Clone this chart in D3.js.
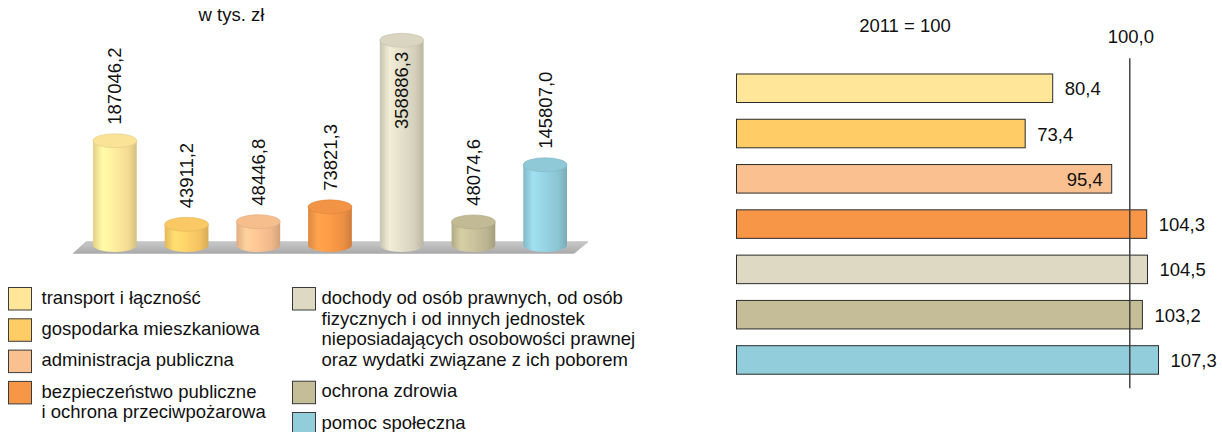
<!DOCTYPE html>
<html>
<head>
<meta charset="utf-8">
<script src="https://cdn.jsdelivr.net/npm/d3@7"></script>
<style>
  html, body { margin: 0; padding: 0; background: #fff; }
  svg { display: block; }
  text { font-family: "Liberation Sans", Arial, sans-serif; fill: #111; }
</style>
</head>
<body>
<svg id="chart" width="1222" height="432"></svg>
<script>
// ---------- DATA ----------
const categories = [
  "transport i łączność",
  "gospodarka mieszkaniowa",
  "administracja publiczna",
  "bezpieczeństwo publiczne i ochrona przeciwpożarowa",
  "dochody od osób prawnych, od osób fizycznych i od innych jednostek nieposiadających osobowości prawnej oraz wydatki związane z ich poborem",
  "ochrona zdrowia",
  "pomoc społeczna"
];
const amounts = [187046.2, 43911.2, 48446.8, 73821.3, 358886.3, 48074.6, 145807.0];   // w tys. zł
const indices = [80.4, 73.4, 95.4, 104.3, 104.5, 103.2, 107.3];                      // 2011 = 100
const colors = ["#FFE699", "#FFCC66", "#FAC090", "#F79646", "#DDD9C3", "#C4BD97", "#92CDDC"];
const legendLines = [
  ["transport i łączność"],
  ["gospodarka mieszkaniowa"],
  ["administracja publiczna"],
  ["bezpieczeństwo publiczne", "i ochrona przeciwpożarowa"],
  ["dochody od osób prawnych, od osób", "fizycznych i od innych jednostek",
   "nieposiadających osobowości prawnej", "oraz wydatki związane z ich poborem"],
  ["ochrona zdrowia"],
  ["pomoc społeczna"]
];
const legendColumn = [0, 0, 0, 0, 1, 1, 1];
const leftTitle = "w tys. zł";
const rightTitle = "2011 = 100";
const refValue = 100;
const refLabel = "100,0";

// ---------- HELPERS ----------
const fmt = v => d3.format(".1f")(v).replace(".", ",");
const svg = d3.select("#chart");
const defs = svg.append("defs");
const FS = 18.5;

// ---------- LEFT: 3D cylinders ----------
const xL = d3.scaleBand().domain(categories).range([79, 581]).paddingInner(0.39).paddingOuter(0.195);
const yL = d3.scaleLinear().domain([0, d3.max(amounts)]).range([250, 40.3]);
const ry = 7;
const baseY = 245;

svg.append("text").attr("x", 231.5).attr("y", 21).attr("text-anchor", "middle")
  .attr("font-size", FS).text(leftTitle);

// platform floor
const pr = xL.range();
const plat = svg.append("g");
const pg = defs.append("linearGradient").attr("id", "platG").attr("x1", 0).attr("y1", 0).attr("x2", 0).attr("y2", 1);
pg.append("stop").attr("offset", "0%").attr("stop-color", "#c9c9c9");
pg.append("stop").attr("offset", "100%").attr("stop-color", "#a9a9a9");
plat.append("path")
  .attr("d", `M${pr[0] + 7},${241.7} L${pr[1] + 7},${241.7} L${pr[1] - 7},${253.5} L${pr[0] - 6},${253.5} Z`)
  .attr("fill", "url(#platG)").attr("stroke", "#b0b0b0").attr("stroke-width", 0.6);

const cyl = svg.append("g");
categories.forEach((c, i) => {
  const col = d3.color(colors[i]);
  const g = defs.append("linearGradient").attr("id", "cg" + i).attr("x1", 0).attr("x2", 1).attr("y1", 0).attr("y2", 0);
  g.append("stop").attr("offset", "0%").attr("stop-color", col.darker(0.3));
  g.append("stop").attr("offset", "22%").attr("stop-color", col.brighter(0.25));
  g.append("stop").attr("offset", "45%").attr("stop-color", col.brighter(0.12));
  g.append("stop").attr("offset", "80%").attr("stop-color", col.darker(0.12));
  g.append("stop").attr("offset", "100%").attr("stop-color", col.darker(0.5));
});

categories.forEach((c, i) => {
  const x0 = xL(c), w = xL.bandwidth(), cx = x0 + w / 2, rx = w / 2;
  const yt = yL(amounts[i]);
  const col = d3.color(colors[i]);
  const gi = cyl.append("g");
  // body
  gi.append("path")
    .attr("d", `M${x0},${yt} L${x0},${baseY} A${rx},${ry} 0 0 0 ${x0 + w},${baseY} L${x0 + w},${yt} Z`)
    .attr("fill", `url(#cg${i})`);
  // top ellipse
  gi.append("ellipse").attr("cx", cx).attr("cy", yt).attr("rx", rx).attr("ry", ry)
    .attr("fill", col.darker(0.05)).attr("stroke", col.darker(0.35)).attr("stroke-width", 0.6);

  // value label (rotated)
  const label = fmt(amounts[i]);
  const t = gi.append("text").attr("font-size", FS).attr("dominant-baseline", "central").text(label);
  const len = t.node().getComputedTextLength();
  const startY = yt - ry - 9;
  if (startY - len < 2) {
    t.attr("text-anchor", "end").attr("transform", `translate(${cx},${yt + 11.5}) rotate(-90)`);
  } else {
    t.attr("text-anchor", "start").attr("transform", `translate(${cx},${startY}) rotate(-90)`);
  }
});

// ---------- LEGEND ----------
const lg = svg.append("g");
const colX = [{ sq: 8.5, tx: 41.5 }, { sq: 292.5, tx: 321.5 }];
const lineH = 20.8, itemGap = 31.3;
const colY = [287.5, 287.5];
categories.forEach((c, i) => {
  const k = legendColumn[i];
  const top = colY[k];
  lg.append("rect").attr("x", colX[k].sq).attr("y", top).attr("width", 23).attr("height", 22.5)
    .attr("fill", colors[i]).attr("stroke", "#3a3a3a").attr("stroke-width", 1);
  legendLines[i].forEach((ln, j) => {
    lg.append("text").attr("x", colX[k].tx).attr("y", top + 11.25 + 5 + j * lineH)
      .attr("font-size", FS).text(ln);
  });
  colY[k] = top + itemGap + (legendLines[i].length - 1) * lineH;
});

// ---------- RIGHT: horizontal index bars ----------
const xR = d3.scaleLinear().domain([0, refValue]).range([736.5, 1129.8]);
const yR = d3.scaleBand().domain(categories).range([65.6, 382.6]).paddingInner(0.37).paddingOuter(0.185);

svg.append("text").attr("x", 905).attr("y", 31.5).attr("text-anchor", "middle")
  .attr("font-size", FS).text(rightTitle);

const rb = svg.append("g");
rb.selectAll("rect").data(categories).join("rect")
  .attr("x", xR(0)).attr("y", d => yR(d))
  .attr("width", (d, i) => xR(indices[i]) - xR(0)).attr("height", yR.bandwidth())
  .attr("fill", (d, i) => colors[i]).attr("stroke", "#2b2b2b").attr("stroke-width", 1);

// reference line at 100
svg.append("line").attr("x1", xR(refValue)).attr("x2", xR(refValue)).attr("y1", 58.3).attr("y2", 388.3)
  .attr("stroke", "#3a3a3a").attr("stroke-width", 1.4);
svg.append("text").attr("x", xR(refValue) + 1).attr("y", 42.5).attr("text-anchor", "middle")
  .attr("font-size", FS).text(refLabel);

// value labels
categories.forEach((c, i) => {
  const xe = xR(indices[i]);
  const yc = yR(c) + yR.bandwidth() / 2 + 7;
  const t = rb.append("text").attr("font-size", FS).attr("y", yc).text(fmt(indices[i]));
  const len = t.node().getComputedTextLength();
  if (indices[i] < refValue && xe + 12 + len > xR(refValue) - 2) {
    t.attr("x", xe - 9).attr("text-anchor", "end");
  } else {
    t.attr("x", xe + 12).attr("text-anchor", "start");
  }
});
</script>
</body>
</html>
